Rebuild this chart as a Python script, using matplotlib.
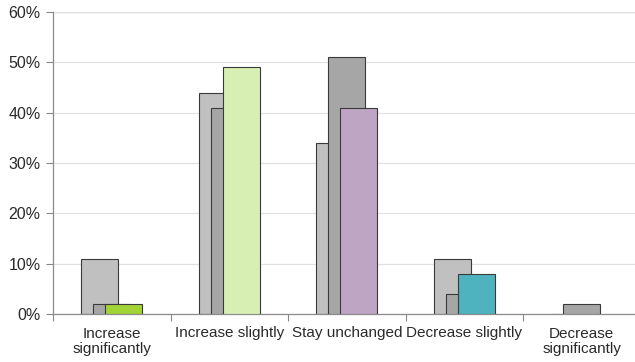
import numpy as np
import matplotlib
matplotlib.use("Agg")
from matplotlib import pyplot as plt
from matplotlib.ticker import FuncFormatter, FixedLocator

# Survey answers and shares (percent)
categories = ["Increase\nsignificantly", "Increase slightly", "Stay unchanged",
              "Decrease slightly", "Decrease\nsignificantly"]
back_values = [11, 44, 34, 11, 0]
middle_values = [2, 41, 51, 4, 2]
front_values = [2, 49, 41, 8, 0]
front_colors = ["#a3d435", "#d8efb3", "#bfa5c4", "#4fb3bf", "#bfa5c4"]

plt.rcParams["font.family"] = ["Liberation Sans", "DejaVu Sans"]

fig = plt.figure(figsize=(6.35, 3.62), dpi=100)
ax = fig.add_axes([53 / 635, 48 / 362, 587.5 / 635, 302 / 362])

x = np.arange(len(categories))
width = 0.315
step = 0.102
edge = dict(edgecolor="#3a3a3a", linewidth=0.8)

# Three overlapping series, drawn back to front
ax.bar(x - step, back_values, width, color="#c0c0c0", zorder=2, **edge)
ax.bar(x, middle_values, width, color="#a6a6a6", zorder=3, **edge)
for xi, v, c in zip(x, front_values, front_colors):
    if v > 0:
        ax.bar(xi + step, v, width, color=c, zorder=4, **edge)

ax.set_xlim(-0.5, len(categories) - 0.5)
ax.set_ylim(0, 60)
ax.set_yticks(range(0, 61, 10))
ax.yaxis.set_major_formatter(FuncFormatter(lambda v, p: f"{v:.0f}%"))
ax.yaxis.grid(True, color="#e2e2e2", linewidth=0.9, zorder=0)

# Category labels centred, tick marks between categories
ax.set_xticks(x)
ax.set_xticklabels(categories, fontsize=11, color="#2a2a2a", linespacing=1.15)
ax.tick_params(axis="x", length=0, pad=9)
ax.xaxis.set_minor_locator(FixedLocator(np.arange(-0.5, len(categories), 1.0)))
ax.tick_params(axis="x", which="minor", length=5, color="#888888", width=0.8)
ax.tick_params(axis="y", length=5, color="#888888", width=0.8, labelsize=11.5,
               labelcolor="#2a2a2a", pad=4)

for s in ["top", "right"]:
    ax.spines[s].set_visible(False)
for s in ["left", "bottom"]:
    ax.spines[s].set_color("#8c8c8c")
    ax.spines[s].set_linewidth(0.9)
ax.axhline(60, color="#8c8c8c", linewidth=0.9, zorder=1)

fig.savefig("out.png", dpi=100)
